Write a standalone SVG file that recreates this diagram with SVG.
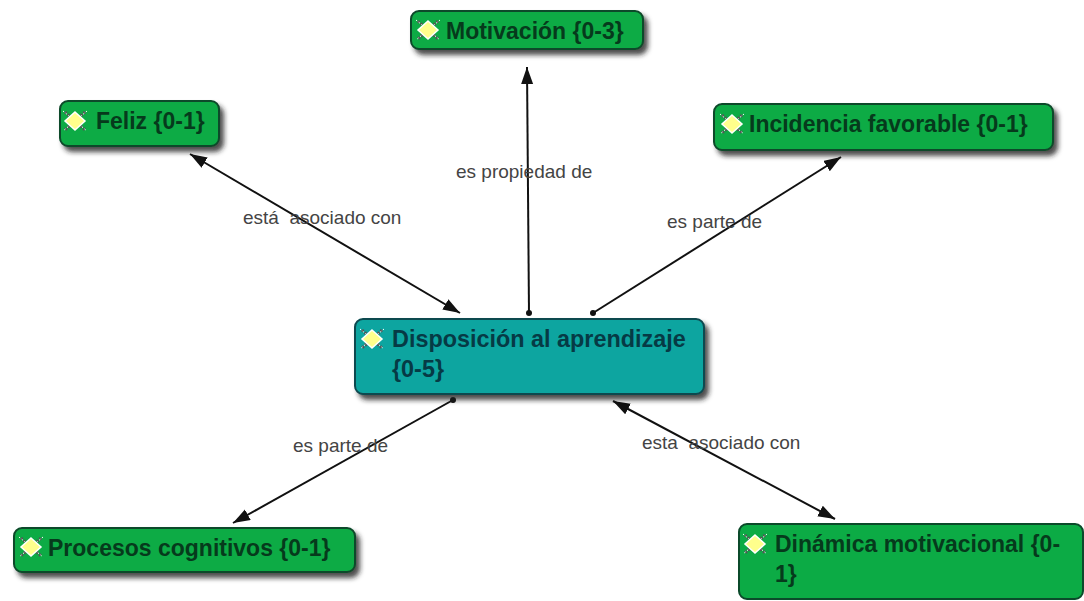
<svg xmlns="http://www.w3.org/2000/svg" width="1084" height="601" viewBox="0 0 1084 601">
<defs>
<marker id="arrow" markerUnits="userSpaceOnUse" markerWidth="20" markerHeight="14" refX="17" refY="6" orient="auto-start-reverse"><path d="M0,0 L17,6 L0,12 Z" fill="#111"/></marker>
<marker id="dot" markerUnits="userSpaceOnUse" markerWidth="8" markerHeight="8" refX="4" refY="4"><circle cx="4" cy="4" r="3" fill="#111"/></marker>
<filter id="shadow" x="-10%" y="-20%" width="120%" height="150%"><feDropShadow dx="4" dy="5" stdDeviation="2.5" flood-color="#222" flood-opacity=".8"/></filter>
<g id="icon"><path d="M-10,-9 L10,9 M10,-9 L-10,9" stroke="#555" stroke-width="3" stroke-dasharray="2 1.5"/><path d="M-12,-10 L12,10 M12,-10 L-12,10" stroke="#fff" stroke-width="1" stroke-dasharray="1.5 2"/><path d="M0,-9 L10,0 L0,9 L-10,0 Z" fill="#ffff8c" stroke="#fff" stroke-width="1.5"/></g>
</defs>
<style>
.g{fill:#0cab45;stroke:#0b4a2a;stroke-width:2}
.t{fill:#0aa5a0;stroke:#0b4a50;stroke-width:2}
.n{font:bold 23px "Liberation Sans",Arial,sans-serif;fill:#063a1c}
.n2{font:bold 23.4px "Liberation Sans",Arial,sans-serif;fill:#063a45}
.l{font:19px "Liberation Sans",Arial,sans-serif;fill:#444;white-space:pre}
.c{fill:none;stroke:#111;stroke-width:2}
</style>
<g id="connectors">
<path class="c" marker-start="url(#dot)" marker-end="url(#arrow)" d="M529,313 L527,67"/>
<path class="c" marker-start="url(#arrow)" marker-end="url(#arrow)" d="M190,154 L460,313"/>
<path class="c" marker-start="url(#dot)" marker-end="url(#arrow)" d="M593,313 L841,157"/>
<path class="c" marker-start="url(#dot)" marker-end="url(#arrow)" d="M453,400 L233,523"/>
<path class="c" marker-start="url(#arrow)" marker-end="url(#arrow)" d="M613,401 L835,519"/>
<text class="l" x="456" y="178">es propiedad de</text>
<text class="l" x="243" y="224">está  asociado con</text>
<text class="l" x="667" y="228">es parte de</text>
<text class="l" x="293" y="452">es parte de</text>
<text class="l" x="642" y="449">esta  asociado con</text>
</g>
<g id="n-motivacion"><rect class="g" x="411" y="11" width="232" height="38" rx="8" filter="url(#shadow)"/><use href="#icon" x="428" y="30"/><text class="n" x="446" y="39">Motivación {0-3}</text></g>
<g id="n-feliz"><rect class="g" x="60" y="101" width="159" height="45" rx="8" filter="url(#shadow)"/><use href="#icon" x="75" y="121"/><text class="n" x="96" y="129">Feliz {0-1}</text></g>
<g id="n-incidencia"><rect class="g" x="714" y="104" width="339" height="46" rx="8" filter="url(#shadow)"/><use href="#icon" x="732" y="124"/><text class="n" x="749" y="132">Incidencia favorable {0-1}</text></g>
<g id="n-disposicion"><rect class="t" x="355" y="319" width="349" height="75" rx="8" filter="url(#shadow)"/><use href="#icon" x="372" y="339"/><text class="n2" x="392" y="347">Disposición al aprendizaje</text><text class="n2" x="392" y="377">{0-5}</text></g>
<g id="n-procesos"><rect class="g" x="14" y="528" width="341" height="44" rx="8" filter="url(#shadow)"/><use href="#icon" x="31" y="547"/><text class="n" x="48" y="556">Procesos cognitivos {0-1}</text></g>
<g id="n-dinamica"><rect class="g" x="739" y="524" width="344" height="75" rx="8"/><use href="#icon" x="755" y="544"/><text class="n" x="775" y="552">Dinámica motivacional {0-</text><text class="n" x="775" y="582">1}</text></g>
</svg>
